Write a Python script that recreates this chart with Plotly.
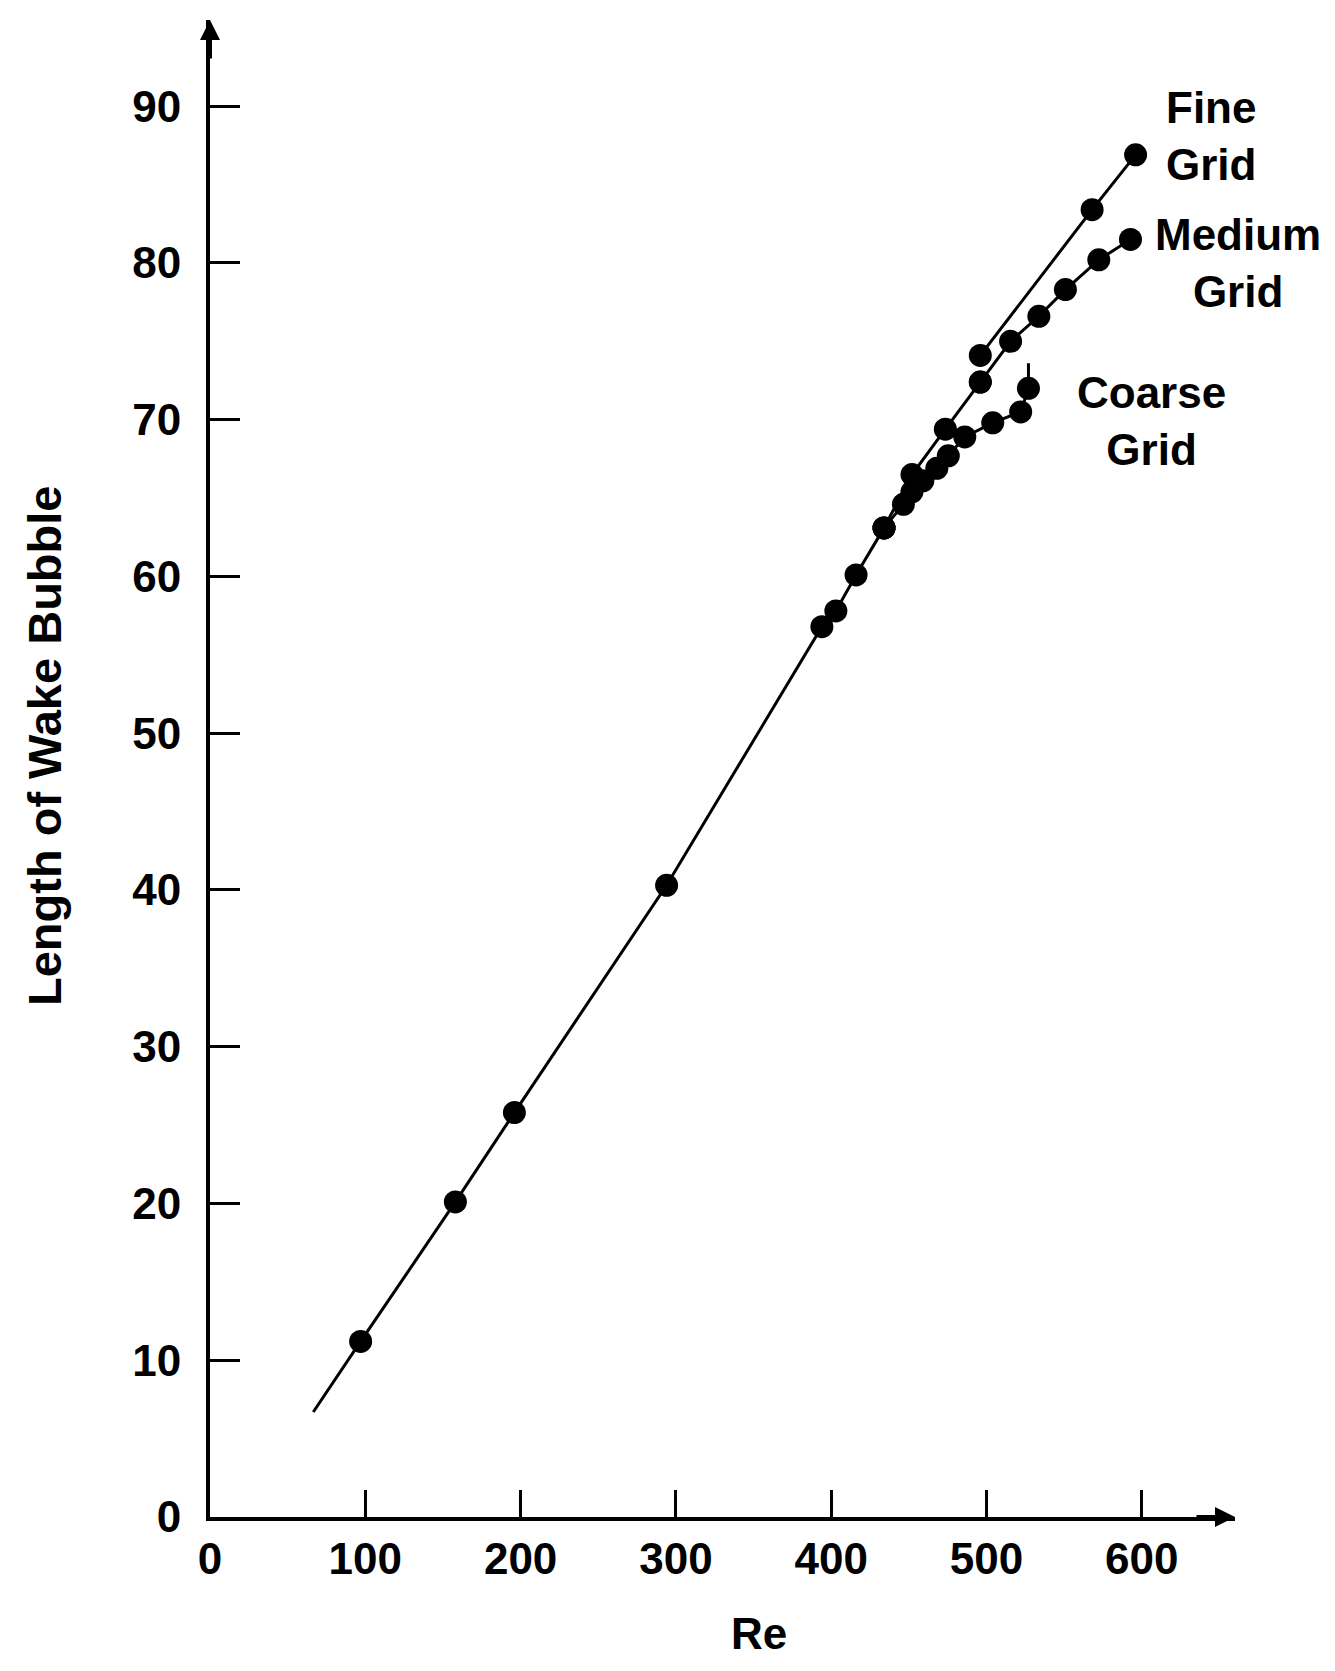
import plotly.graph_objects as go

# ---- data ----
main_re = [66.5, 97, 158, 196, 294, 394, 403, 416, 434]
main_len = [6.7, 11.2, 20.1, 25.8, 40.3, 56.8, 57.8, 60.1, 63.1]
main_has_dot = [False, True, True, True, True, True, True, True, True]

shared_re = [434, 452, 473.5, 496]
shared_len = [63.1, 66.5, 69.4, 72.4]

medium_re = [496, 515.5, 533.7, 550.8, 572.3, 592.7]
medium_len = [72.4, 75.0, 76.6, 78.3, 80.2, 81.5]

fine_re = [496, 568, 596]
fine_len = [74.1, 83.4, 86.9]

coarse_re = [434, 446.5, 452, 459, 468, 475.4, 486, 504, 522, 527, 527]
coarse_len = [63.1, 64.6, 65.4, 66.1, 66.9, 67.7, 68.9, 69.8, 70.5, 72.0, 73.6]
coarse_has_dot = [True, True, True, True, True, True, True, True, True, True, False]

x_ticks = [0, 100, 200, 300, 400, 500, 600]
y_ticks = [0, 10, 20, 30, 40, 50, 60, 70, 80, 90]

# label text with position in paper coordinates
labels = [("Fine<br>Grid", 0.9766, 0.9226),
          ("Medium<br>Grid", 1.0030, 0.8377),
          ("Coarse<br>Grid", 0.9189, 0.7319)]

X_MAX = 660
Y_MAX = 95.5
FONT = "Liberation Sans"
DOT = 23
LW = 3

fig = go.Figure()


def add_series(xs, ys, dots=None):
    sizes = [DOT if (dots is None or d) else 0 for d in (dots or xs)]
    fig.add_trace(go.Scatter(
        x=xs, y=ys, mode="lines+markers",
        line=dict(color="black", width=LW),
        marker=dict(color="black", size=sizes, opacity=1, line=dict(width=0)),
        opacity=1, showlegend=False, hoverinfo="x+y", cliponaxis=False))


add_series(main_re, main_len, main_has_dot)
add_series(shared_re, shared_len)
add_series(medium_re, medium_len)
add_series(fine_re, fine_len)
add_series(coarse_re, coarse_len, coarse_has_dot)

annotations = []
for txt, x, y in labels:
    annotations.append(dict(x=x, y=y, xref="paper", yref="paper", text="<b>%s</b>" % txt,
                            xanchor="center", yanchor="middle",
                            showarrow=False, align="center",
                            font=dict(family=FONT, size=44, color="black")))

# axis arrowheads
annotations.append(dict(x=0, y=Y_MAX, xref="x", yref="y", ax=0, ay=40,
                        showarrow=True, arrowhead=2, arrowsize=1, arrowwidth=4,
                        arrowcolor="black", text=""))
annotations.append(dict(x=X_MAX, y=0, xref="x", yref="y", ax=-40, ay=0,
                        showarrow=True, arrowhead=2, arrowsize=1, arrowwidth=4,
                        arrowcolor="black", text=""))

# axis titles
annotations.append(dict(x=-0.162, y=0.515, xref="paper", yref="paper",
                        xanchor="center", yanchor="middle",
                        text="<b>Length of Wake Bubble</b>", textangle=-90,
                        showarrow=False, font=dict(family=FONT, size=47, color="black")))
annotations.append(dict(x=0.536, y=-0.078, xref="paper", yref="paper",
                        xanchor="center", yanchor="middle",
                        text="<b>Re</b>", showarrow=False,
                        font=dict(family=FONT, size=44, color="black")))

fig.update_layout(
    width=1335, height=1671,
    margin=dict(l=210, r=100, t=20, b=154),
    paper_bgcolor="white", plot_bgcolor="white",
    font=dict(family=FONT, color="black"),
    annotations=annotations,
)

fig.update_xaxes(range=[0, X_MAX], tickvals=x_ticks, ticktext=[str(v) for v in x_ticks],
                 ticks="inside", ticklen=27, tickwidth=2.5, tickcolor="black",
                 showline=True, linewidth=4, linecolor="black",
                 showgrid=False, zeroline=False,
                 tickfont=dict(family=FONT, size=44, color="black", weight="bold"),
                 ticklabelstandoff=0)
fig.update_yaxes(range=[0, Y_MAX], tickvals=y_ticks, ticktext=[str(v) for v in y_ticks],
                 ticks="inside", ticklen=30, tickwidth=2.5, tickcolor="black",
                 showline=True, linewidth=4, linecolor="black",
                 showgrid=False, zeroline=False,
                 tickfont=dict(family=FONT, size=44, color="black", weight="bold"),
                 ticklabelstandoff=16)

fig.write_html("out.html", config={"displayModeBar": False},
               post_script="document.body.style.margin='0';")
